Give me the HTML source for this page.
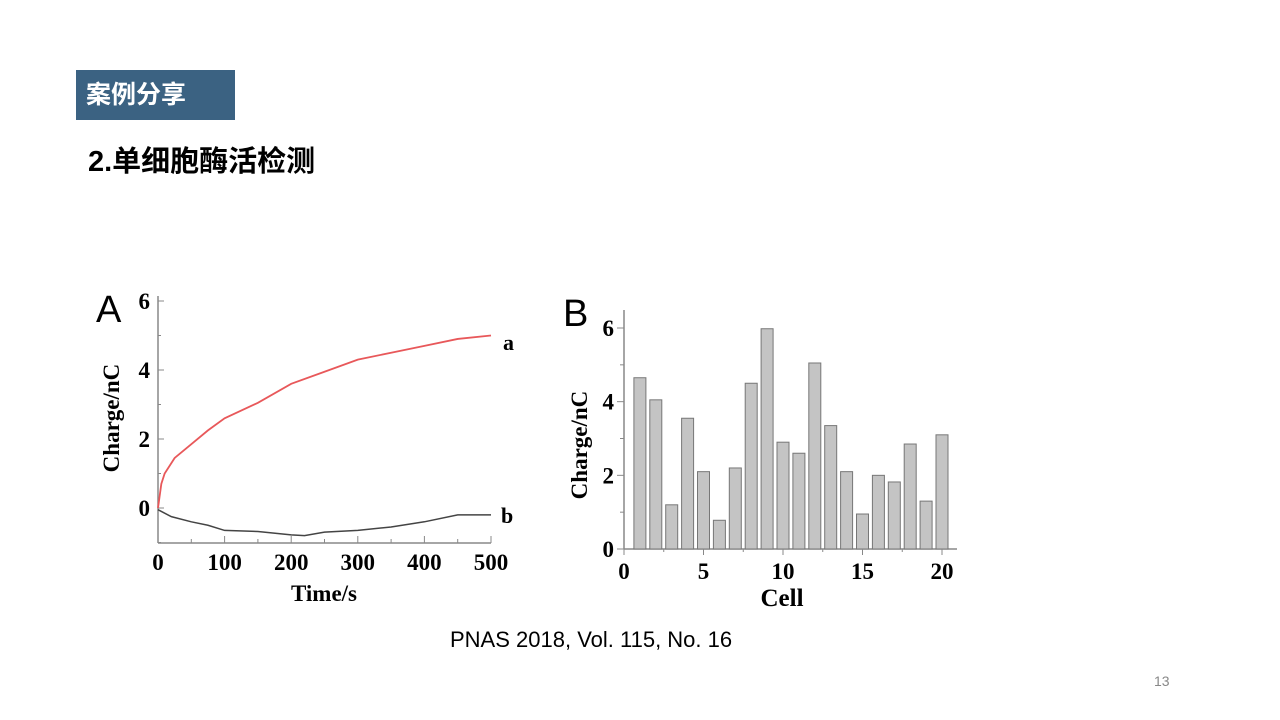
<!DOCTYPE html>
<html><head><meta charset="utf-8"><style>
body{margin:0;width:1280px;height:720px;background:#fff;position:relative;overflow:hidden;font-family:"Liberation Sans","Noto Sans CJK SC",sans-serif}
.abs{position:absolute}
</style></head><body>
<div class="abs" style="left:76px;top:70px;width:159px;height:50px;background:#3b6282;color:#fff;font-weight:bold;font-size:25px;line-height:50px;padding-left:10px;box-sizing:border-box">案例分享</div>
<div class="abs" style="left:88px;top:138px;font-size:29px;font-weight:bold;color:#000">2.单细胞酶活检测</div>
<div class="abs" style="left:450px;top:627px;font-size:22px;color:#000">PNAS 2018, Vol. 115, No. 16</div>
<div class="abs" style="left:1154px;top:673px;font-size:14px;color:#888">13</div>
<svg class="abs" style="left:0;top:0" width="1280" height="720" font-family="Liberation Serif,serif" font-weight="bold">
<g id="A"></g><g id="B"></g>
</svg>
<script>
const aTime=[0,5,10,25,50,75,100,150,200,250,300,350,400,450,500];
const aCharge=[0,0.7,1.0,1.45,1.85,2.25,2.6,3.05,3.6,3.95,4.3,4.5,4.7,4.9,5.0];
const bTime=[0,20,50,75,100,150,200,220,250,300,350,400,450,500];
const bCharge=[-0.05,-0.25,-0.4,-0.5,-0.65,-0.68,-0.78,-0.8,-0.7,-0.65,-0.55,-0.4,-0.2,-0.2];
const aXTicks=[0,100,200,300,400,500];
const aYTicks=[0,2,4,6];
const cells=[1,2,3,4,5,6,7,8,9,10,11,12,13,14,15,16,17,18,19,20];
const cellCharge=[4.65,4.05,1.2,3.55,2.1,0.78,2.2,4.5,5.98,2.9,2.6,5.05,3.35,2.1,0.95,2.0,1.82,2.85,1.3,3.1];
const bXTicks=[0,5,10,15,20];
const bYTicks=[0,2,4,6];
const NS='http://www.w3.org/2000/svg';
function mk(p,t,a,txt){const e=document.createElementNS(NS,t);for(const k in a)e.setAttribute(k,a[k]);if(txt!==undefined)e.textContent=txt;p.appendChild(e);return e;}
// Chart A
const A=document.getElementById('A');
const ax=v=>158+v*(491-158)/500, ay=v=>508-v*(508-301)/6;
let e=mk(A,'line',{x1:158,y1:296,x2:158,y2:543,stroke:'#888','stroke-width':1.5});

e=mk(A,'line',{x1:158,y1:543,x2:491,y2:543,stroke:'#888','stroke-width':1.5});

for(let v=0;v<=500;v+=50){mk(A,'line',{x1:ax(v),y1:543,x2:ax(v),y2:v%100?539:536,stroke:'#888'});}
aXTicks.forEach(v=>{e=mk(A,'text',{x:ax(v),y:570,'text-anchor':'middle','font-size':23},v);
});
for(let v=-1;v<=6;v++){mk(A,'line',{x1:158,y1:ay(v),x2:v%2?161:164,y2:ay(v),stroke:'#888'});}
aYTicks.forEach(v=>{e=mk(A,'text',{x:150,y:ay(v)+8,'text-anchor':'end','font-size':23},v);
});
e=mk(A,'text',{x:96,y:322,'font-size':38,'font-weight':'normal','font-family':'Liberation Sans,sans-serif'},'A');

e=mk(A,'text',{x:324,y:601,'text-anchor':'middle','font-size':23},'Time/s');

e=mk(A,'text',{x:0,y:0,'text-anchor':'middle','font-size':23,transform:'translate(119,418) rotate(-90)'},'Charge/nC');

e=mk(A,'polyline',{points:aTime.map((t,i)=>ax(t)+','+ay(aCharge[i])).join(' '),fill:'none',stroke:'#e8585a','stroke-width':1.8});

e=mk(A,'polyline',{points:bTime.map((t,i)=>ax(t)+','+ay(bCharge[i])).join(' '),fill:'none',stroke:'#444','stroke-width':1.5});

e=mk(A,'text',{x:503,y:350,'font-size':22},'a');

e=mk(A,'text',{x:501,y:523,'font-size':22},'b');

// Chart B
const B=document.getElementById('B');
const bx=v=>624+v*(942-624)/20, by=v=>549-v*(549-328)/6;
e=mk(B,'line',{x1:624,y1:310,x2:624,y2:549,stroke:'#888','stroke-width':1.5});

e=mk(B,'line',{x1:624,y1:549,x2:957,y2:549,stroke:'#888','stroke-width':1.5});

cells.forEach((c,i)=>{e=mk(B,'rect',{x:bx(c)-6,y:by(cellCharge[i]),width:12,height:549-by(cellCharge[i]),fill:'#c4c4c4',stroke:'#777','stroke-width':1});
});
for(let v=0;v<=20;v+=2.5){mk(B,'line',{x1:bx(v),y1:549,x2:bx(v),y2:v%5?552:555,stroke:'#888'});}
bXTicks.forEach(v=>{e=mk(B,'text',{x:bx(v),y:579,'text-anchor':'middle','font-size':23},v);
});
for(let v=0;v<=6;v++){mk(B,'line',{x1:624,y1:by(v),x2:v%2?620:617,y2:by(v),stroke:'#888'});}
bYTicks.forEach(v=>{e=mk(B,'text',{x:614,y:by(v)+8,'text-anchor':'end','font-size':23},v);
});
e=mk(B,'text',{x:563,y:326,'font-size':38,'font-weight':'normal','font-family':'Liberation Sans,sans-serif'},'B');

e=mk(B,'text',{x:782,y:606,'text-anchor':'middle','font-size':25},'Cell');

e=mk(B,'text',{x:0,y:0,'text-anchor':'middle','font-size':23,transform:'translate(587,445) rotate(-90)'},'Charge/nC');

</script>
</body></html>
